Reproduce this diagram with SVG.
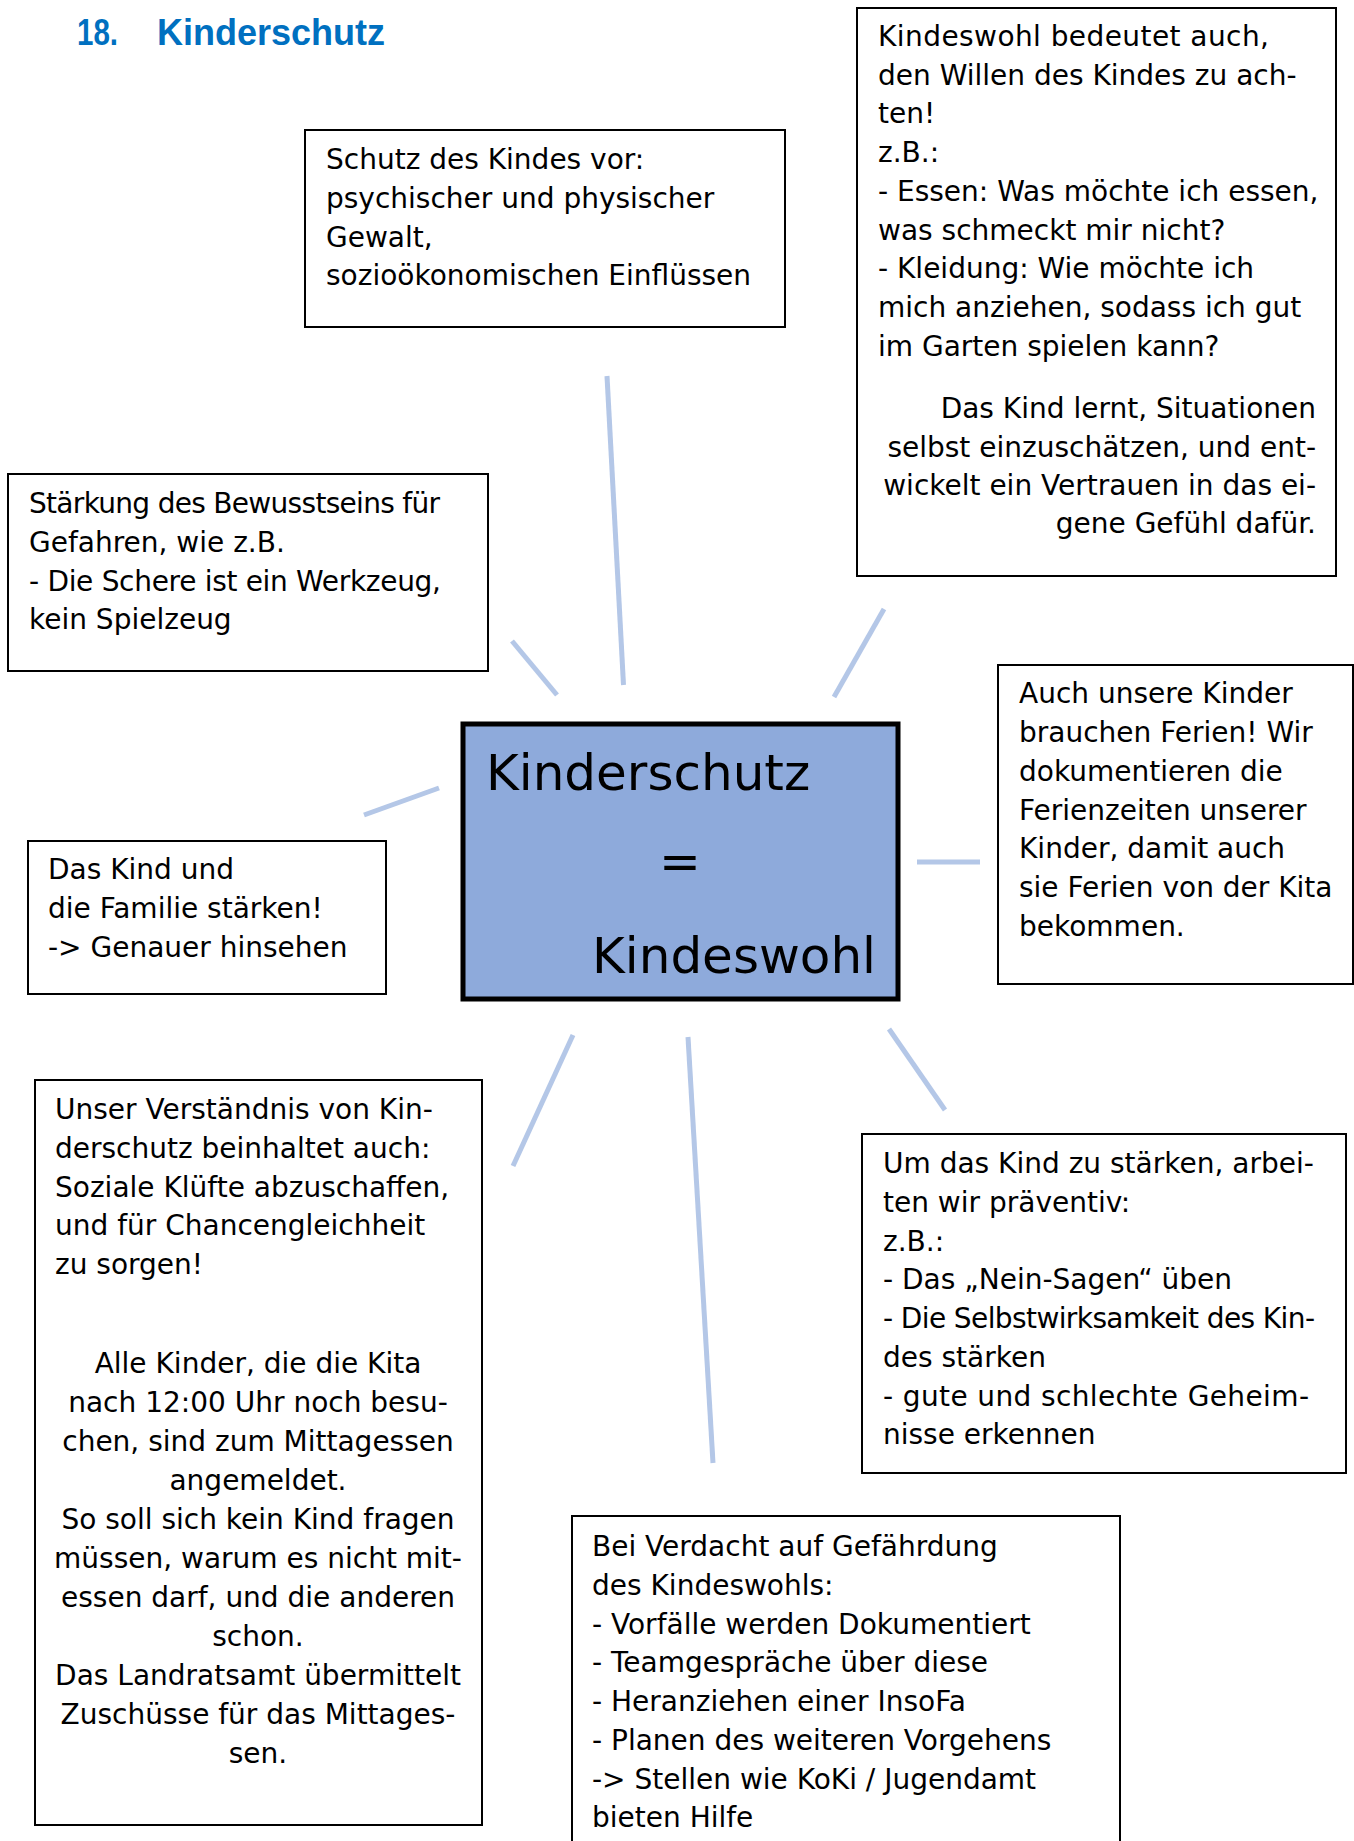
<svg xmlns="http://www.w3.org/2000/svg" width="1354" height="1841" viewBox="0 0 1354 1841">
<style>
.box{fill:#fff;stroke:#000;stroke-width:2}
.t{font-family:"DejaVu Sans",sans-serif;font-size:28px;fill:#000}
.big{font-family:"DejaVu Sans",sans-serif;font-size:50px;fill:#000}
.title{font-family:"Liberation Sans",Arial,sans-serif;font-weight:bold;font-size:36px;fill:#0070C0}
.con line{stroke:#B4C7E7;stroke-width:5;stroke-linecap:butt}
</style>
<rect width="1354" height="1841" fill="#fff"/>
<g id="title">
<text class="title" x="77" y="45" textLength="41" lengthAdjust="spacingAndGlyphs">18.</text>
<text class="title" x="157" y="45">Kinderschutz</text>
</g>
<g id="connectors" class="con">
<line x1="607" y1="376" x2="623.5" y2="685"/>
<line x1="512" y1="641" x2="557" y2="695"/>
<line x1="884" y1="609" x2="834" y2="697"/>
<line x1="364" y1="815" x2="439" y2="788"/>
<line x1="917" y1="862" x2="980" y2="862"/>
<line x1="573" y1="1035" x2="513" y2="1166"/>
<line x1="688" y1="1037" x2="713" y2="1463"/>
<line x1="889" y1="1029" x2="945" y2="1110"/>
</g>
<g id="center">
<rect x="463" y="724" width="435" height="275" fill="#8EAADB" stroke="#000" stroke-width="5"/>
<text class="big" x="486" y="790">Kinderschutz</text>
<text class="big" x="680" y="879" text-anchor="middle">=</text>
<text class="big" x="876" y="973" text-anchor="end">Kindeswohl</text>
</g>
<g id="node-schutz">
<rect class="box" x="305" y="130" width="480" height="197"/>
<text class="t" x="326"><tspan x="326" y="169">Schutz des Kindes vor:</tspan><tspan x="326" y="208">psychischer und physischer</tspan><tspan x="326" y="247">Gewalt,</tspan><tspan x="326" y="285">sozioökonomischen Einflüssen</tspan></text>
</g>
<g id="node-wille">
<rect class="box" x="857" y="8" width="479" height="568"/>
<text class="t"><tspan x="878" y="46" textLength="391">Kindeswohl bedeutet auch,</tspan><tspan x="878" y="84.5">den Willen des Kindes zu ach-</tspan><tspan x="878" y="123">ten!</tspan><tspan x="878" y="162">z.B.:</tspan><tspan x="878" y="201">- Essen: Was möchte ich essen,</tspan><tspan x="878" y="239.5">was schmeckt mir nicht?</tspan><tspan x="878" y="278">- Kleidung: Wie möchte ich</tspan><tspan x="878" y="317">mich anziehen, sodass ich gut</tspan><tspan x="878" y="356">im Garten spielen kann?</tspan></text>
<text class="t" text-anchor="end"><tspan x="1316" y="418">Das Kind lernt, Situationen</tspan><tspan x="1316" y="457">selbst einzuschätzen, und ent-</tspan><tspan x="1316" y="495">wickelt ein Vertrauen in das ei-</tspan><tspan x="1316" y="533">gene Gefühl dafür.</tspan></text>
</g>
<g id="node-gefahren">
<rect class="box" x="8" y="474" width="480" height="197"/>
<text class="t"><tspan x="29" y="513" textLength="411">Stärkung des Bewusstseins für</tspan><tspan x="29" y="552">Gefahren, wie z.B.</tspan><tspan x="29" y="590.5" textLength="412">- Die Schere ist ein Werkzeug,</tspan><tspan x="29" y="629">kein Spielzeug</tspan></text>
</g>
<g id="node-familie">
<rect class="box" x="28" y="841" width="358" height="153"/>
<text class="t"><tspan x="48" y="879">Das Kind und</tspan><tspan x="48" y="918">die Familie stärken!</tspan><tspan x="48" y="957">-&gt; Genauer hinsehen</tspan></text>
</g>
<g id="node-ferien">
<rect class="box" x="998" y="665" width="355" height="319"/>
<text class="t"><tspan x="1019" y="703">Auch unsere Kinder</tspan><tspan x="1019" y="742">brauchen Ferien! Wir</tspan><tspan x="1019" y="781">dokumentieren die</tspan><tspan x="1019" y="819.5">Ferienzeiten unserer</tspan><tspan x="1019" y="858">Kinder, damit auch</tspan><tspan x="1019" y="897">sie Ferien von der Kita</tspan><tspan x="1019" y="936">bekommen.</tspan></text>
</g>
<g id="node-verstaendnis">
<rect class="box" x="35" y="1080" width="447" height="745"/>
<text class="t"><tspan x="55" y="1119">Unser Verständnis von Kin-</tspan><tspan x="55" y="1158">derschutz beinhaltet auch:</tspan><tspan x="55" y="1196.5">Soziale Klüfte abzuschaffen,</tspan><tspan x="55" y="1235">und für Chancengleichheit</tspan><tspan x="55" y="1274">zu sorgen!</tspan></text>
<text class="t" text-anchor="middle"><tspan x="258" y="1373">Alle Kinder, die die Kita</tspan><tspan x="258" y="1412">nach 12:00 Uhr noch besu-</tspan><tspan x="258" y="1451">chen, sind zum Mittagessen</tspan><tspan x="258" y="1490">angemeldet.</tspan><tspan x="258" y="1529">So soll sich kein Kind fragen</tspan><tspan x="258" y="1568">müssen, warum es nicht mit-</tspan><tspan x="258" y="1607">essen darf, und die anderen</tspan><tspan x="258" y="1646">schon.</tspan><tspan x="258" y="1685">Das Landratsamt übermittelt</tspan><tspan x="258" y="1724">Zuschüsse für das Mittages-</tspan><tspan x="258" y="1763">sen.</tspan></text>
</g>
<g id="node-praevention">
<rect class="box" x="862" y="1134" width="484" height="339"/>
<text class="t"><tspan x="883" y="1173">Um das Kind zu stärken, arbei-</tspan><tspan x="883" y="1212">ten wir präventiv:</tspan><tspan x="883" y="1250.5">z.B.:</tspan><tspan x="883" y="1289">- Das „Nein-Sagen“ üben</tspan><tspan x="883" y="1328" textLength="432">- Die Selbstwirksamkeit des Kin-</tspan><tspan x="883" y="1367">des stärken</tspan><tspan x="883" y="1405.5" textLength="426">- gute und schlechte Geheim-</tspan><tspan x="883" y="1444">nisse erkennen</tspan></text>
</g>
<g id="node-verdacht">
<rect class="box" x="572" y="1516" width="548" height="340"/>
<text class="t"><tspan x="592" y="1556">Bei Verdacht auf Gefährdung</tspan><tspan x="592" y="1595">des Kindeswohls:</tspan><tspan x="592" y="1633.5">- Vorfälle werden Dokumentiert</tspan><tspan x="592" y="1672">- Teamgespräche über diese</tspan><tspan x="592" y="1711">- Heranziehen einer InsoFa</tspan><tspan x="592" y="1750">- Planen des weiteren Vorgehens</tspan><tspan x="592" y="1788.5">-&gt; Stellen wie KoKi / Jugendamt</tspan><tspan x="592" y="1827">bieten Hilfe</tspan></text>
</g>
</svg>
